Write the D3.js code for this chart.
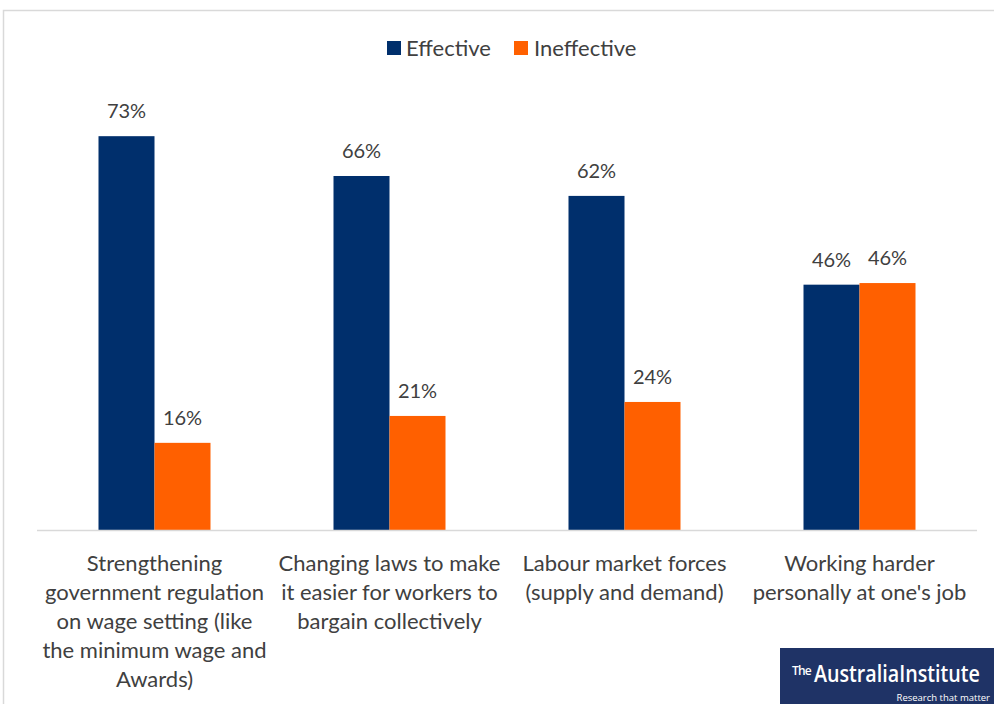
<!DOCTYPE html>
<html><head><meta charset="utf-8">
<script src="https://cdn.jsdelivr.net/npm/d3@7"></script>
<style>body{margin:0;background:#fff}svg{display:block}</style>
</head><body>
<svg id="c" width="994" height="704"></svg>
<script>
const categories = [
  ["Strengthening","government regulation","on wage setting (like","the minimum wage and","Awards)"],
  ["Changing laws to make","it easier for workers to","bargain collectively"],
  ["Labour market forces","(supply and demand)"],
  ["Working harder","personally at one's job"]
];
const seriesNames = ["Effective","Ineffective"];
const effective = [73.2, 65.8, 62.1, 45.6];
const ineffective = [16.2, 21.2, 23.8, 45.9];
const colors = ["#002f6c","#ff6000"];

const svg = d3.select("#c");
const font = "Lato, 'Open Sans', sans-serif";
const textColor = "#404040";

// border
svg.append("path").attr("d","M3.5,704 V10.5 H994").attr("fill","none").attr("stroke","#d9d9d9").attr("stroke-width",1.5);

const x0 = d3.scaleBand().domain(d3.range(categories.length)).range([37,977]).paddingInner(0).paddingOuter(0);
const x1 = d3.scaleBand().domain(seriesNames).range([0,112]);
const y = d3.scaleLinear().domain([0,100]).range([530,-8]);

const data = [effective, ineffective];
const g = svg.append("g");
categories.forEach((c,i)=>{
  const cx = x0(i) + x0.bandwidth()/2;
  seriesNames.forEach((s,j)=>{
    const v = data[j][i];
    const bx = cx - 56 + x1(s);
    g.append("rect").attr("x",bx).attr("y",y(v)).attr("width",x1.bandwidth()).attr("height",y(0)-y(v)).attr("fill",colors[j]);
    g.append("text").attr("x",bx + x1.bandwidth()/2).attr("y",y(v)-18)
      .attr("text-anchor","middle").attr("font-family",font).attr("font-size",20).attr("fill",textColor)
      .text(d3.format(".0f")(v)+"%");
  });
  const t = svg.append("text").attr("text-anchor","middle").attr("font-family",font).attr("font-size",22).attr("fill",textColor);
  c.forEach((line,k)=>{
    t.append("tspan").attr("x",cx).attr("y",571 + k*29).text(line);
  });
});

// baseline
svg.append("line").attr("x1",37).attr("x2",977).attr("y1",530.5).attr("y2",530.5).attr("stroke","#d9d9d9").attr("stroke-width",1.5);

// legend
const leg = [{x:387,tx:406},{x:514,tx:534}];
seriesNames.forEach((s,j)=>{
  svg.append("rect").attr("x",leg[j].x).attr("y",41).attr("width",14).attr("height",14).attr("fill",colors[j]);
  svg.append("text").attr("x",leg[j].tx).attr("y",56).attr("font-family",font).attr("font-size",22).attr("fill",textColor).text(s);
});

// logo
svg.append("rect").attr("x",780).attr("y",648).attr("width",214).attr("height",56).attr("fill","#1f3366");
svg.append("text").attr("x",792).attr("y",675).attr("fill","#fff").attr("font-family","'Open Sans', sans-serif").attr("font-weight",600)
  .attr("font-size",12).attr("letter-spacing",-0.8).text("The");
const big = svg.append("text").attr("x",0).attr("y",0).attr("fill","#fff").attr("font-family","'Open Sans', sans-serif").attr("font-weight",600)
  .attr("font-size",23).text("AustraliaInstitute");
const w = big.node().getComputedTextLength();
big.attr("transform",`translate(814,682) scale(${166/w},1)`);
svg.append("text").attr("x",990).attr("y",701).attr("text-anchor","end").attr("fill","#fff").attr("font-family","'Liberation Sans Narrow', 'Open Sans', sans-serif").attr("font-size",9.5).text("Research that matter");
</script>
</body></html>
